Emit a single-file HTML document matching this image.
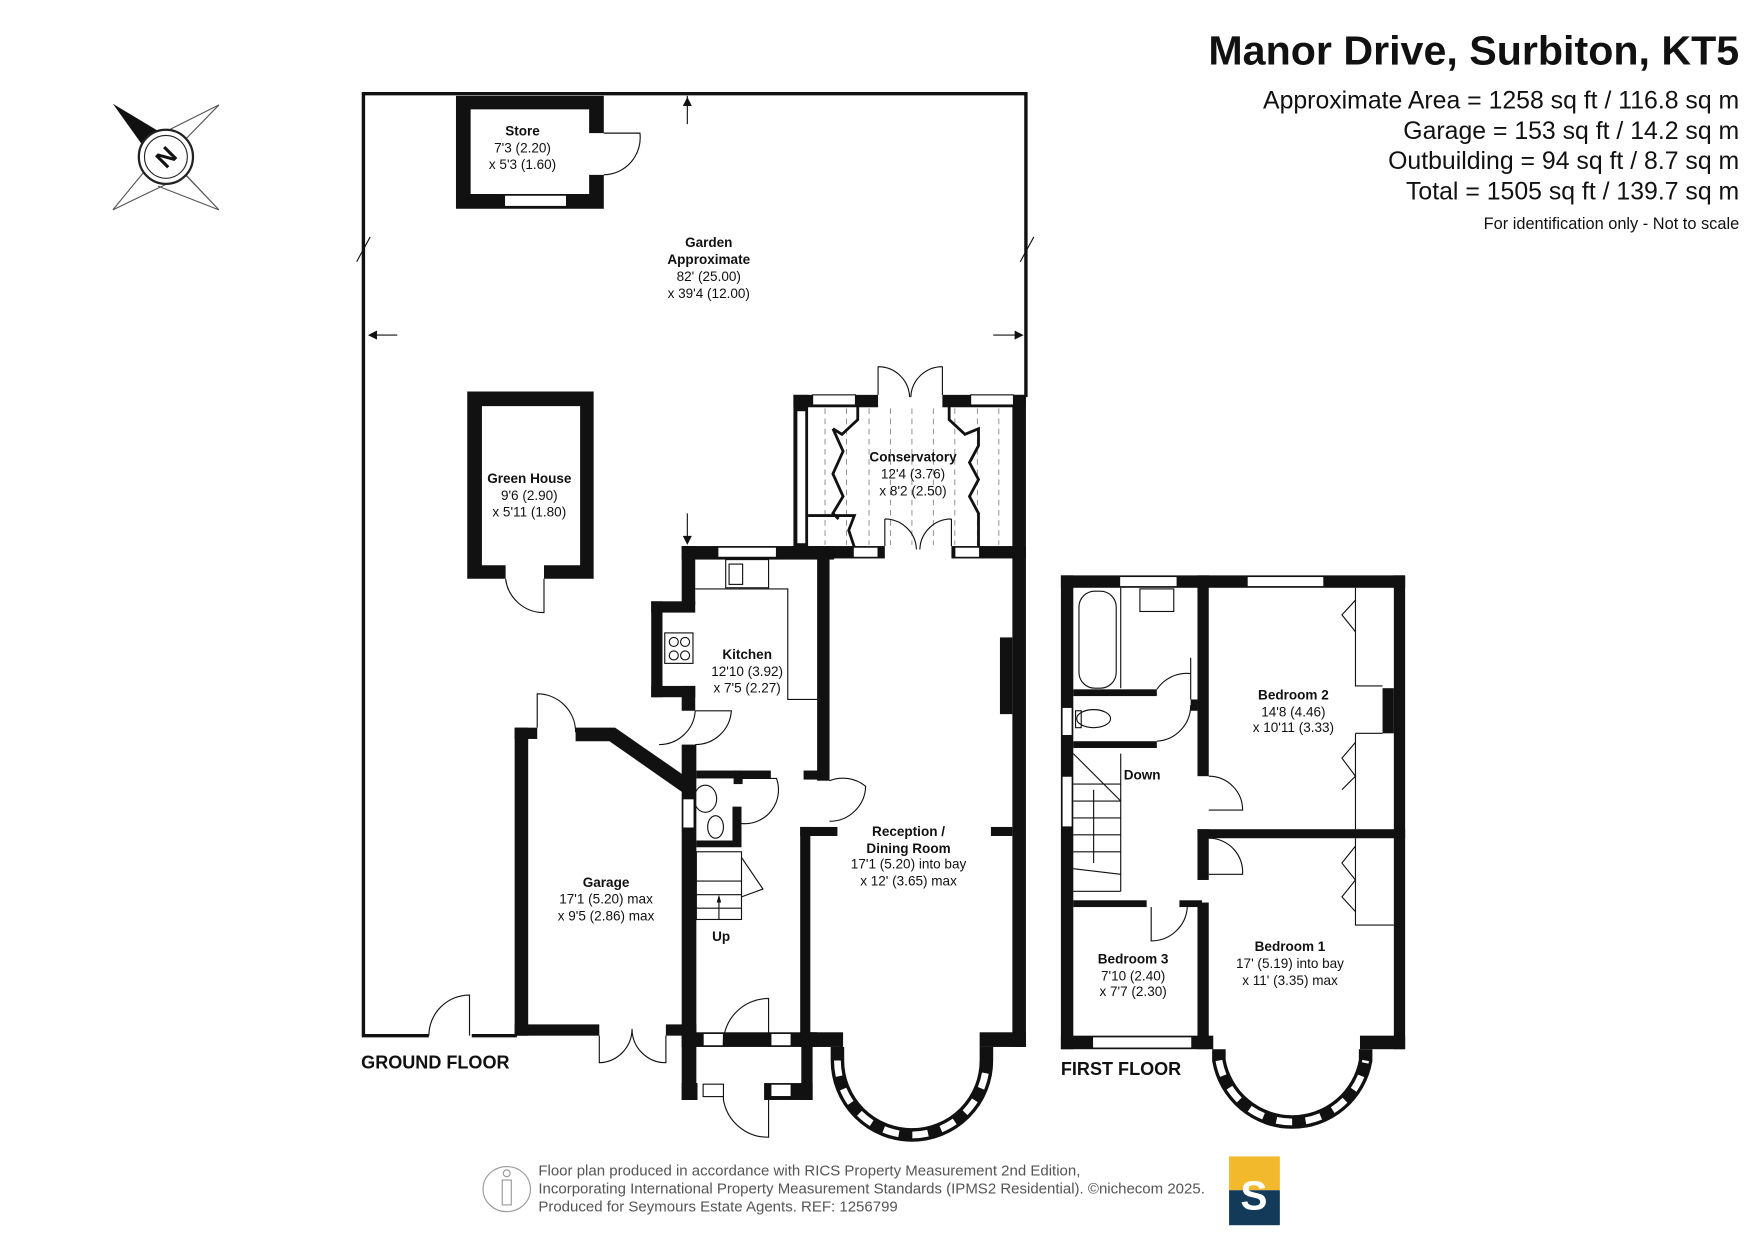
<!DOCTYPE html>
<html><head><meta charset="utf-8"><style>
html,body{margin:0;padding:0;background:#fff;}
svg{display:block;}
text{font-family:"Liberation Sans",Arial,sans-serif;fill:#111;}
.b{font-weight:bold;}
</style></head><body>
<svg width="1755" height="1241" viewBox="0 0 1555 1100" preserveAspectRatio="none" xmlns="http://www.w3.org/2000/svg">
<rect width="1555" height="1100" fill="#fff"/>
<text x="1541" y="57" text-anchor="end" class="b" font-size="36.5">Manor Drive, Surbiton, KT5</text>
<g font-size="22" text-anchor="end">
<text x="1541" y="96">Approximate Area = 1258 sq ft / 116.8 sq m</text>
<text x="1541" y="123">Garage = 153 sq ft / 14.2 sq m</text>
<text x="1541" y="150">Outbuilding = 94 sq ft / 8.7 sq m</text>
<text x="1541" y="177">Total = 1505 sq ft / 139.7 sq m</text>
</g>
<text x="1541" y="203" text-anchor="end" font-size="14.5">For identification only - Not to scale</text>
<g stroke="#555" stroke-width="1" fill="none">
<path d="M100,186 L132,147 M100,186 L150,162 M194,93 L160,128 M194,93 L140,120 M194,186 L160,150 M194,186 L140,165 M194,186 L150,140"/>
</g>
<polygon points="100,92 150,122 130,134" fill="#111"/>
<circle cx="147" cy="139" r="24" fill="#fff" stroke="#222" stroke-width="2"/>
<circle cx="147" cy="139" r="19" fill="none" stroke="#222" stroke-width="1"/>
<text x="147" y="147" text-anchor="middle" class="b" font-size="22" transform="rotate(-45 147 139)">N</text>

<g fill="none" stroke="#111" stroke-width="3">
<path d="M380,918 L322,918 L322,83 L909,83 L909,352"/>
<path d="M418,918 L458,918"/>
</g>
<g stroke="#111" stroke-width="1" fill="none">
<path d="M316,232 L328,210 M904,232 L916,210"/>
<path d="M328,297 L352,297 M880,297 L905,297 M609,85 L609,110 M609,455 L609,480"/>
</g>
<g fill="#111"><polygon points="326,297 334,293 334,301"/><polygon points="907,297 899,293 899,301"/><polygon points="609,86 605,94 613,94"/><polygon points="609,483 605,475 613,475"/></g>
<path d="M380,918 A36,36 0 0 1 416,882 L416,918" fill="none" stroke="#111" stroke-width="1"/>

<path d="M404,85 H535 V118 H522 V97 H417 V172 H522 V155 H535 V185 H404 Z" fill="#111"/>
<rect x="447" y="173" width="55" height="10" fill="#fff" stroke="#111" stroke-width="1"/>
<path d="M535,118 L567,118 A33,33 0 0 1 535,155" fill="none" stroke="#111" stroke-width="1"/>
<text x="463" y="120" text-anchor="middle" class="b" font-size="12">Store</text>
<text x="463" y="135" text-anchor="middle" font-size="12">7'3 (2.20)</text>
<text x="463" y="150" text-anchor="middle" font-size="12">x 5'3 (1.60)</text>

<path d="M414,347 H526 V513 H482 V501 H514 V360 H427 V501 H448 V513 H414 Z" fill="#111"/>
<path d="M448,513 A34,34 0 0 0 482,543 L482,513" fill="none" stroke="#111" stroke-width="1"/>
<text x="469" y="428" text-anchor="middle" class="b" font-size="12">Green House</text>
<text x="469" y="443" text-anchor="middle" font-size="12">9'6 (2.90)</text>
<text x="469" y="458" text-anchor="middle" font-size="12">x 5'11 (1.80)</text>

<g text-anchor="middle" font-size="12">
<text x="628" y="219" class="b">Garden</text>
<text x="628" y="234" class="b">Approximate</text>
<text x="628" y="249">82' (25.00)</text>
<text x="628" y="264">x 39'4 (12.00)</text>
</g>

<g fill="#111">
<rect x="703" y="350" width="75" height="11"/>
<rect x="835" y="350" width="74" height="11"/>
<rect x="703" y="350" width="13" height="145"/>
<rect x="897" y="350" width="12" height="145"/>
<rect x="703" y="484" width="81" height="11"/>
<rect x="843" y="484" width="66" height="11"/>
</g>
<g fill="#fff" stroke="#111" stroke-width="1">
<rect x="720" y="350" width="38" height="9"/><rect x="860" y="350" width="38" height="9"/>
<rect x="706" y="364" width="8" height="118"/>
<rect x="756" y="485" width="22" height="9"/><rect x="846" y="485" width="22" height="9"/>
</g>
<g stroke="#888" stroke-width="0.8" stroke-dasharray="5,4">
<path d="M731,362 V483 M750,362 V483 M770,362 V483 M789,362 V483 M808,362 V483 M827,362 V483 M846,362 V483 M866,362 V483 M885,362 V483"/>
</g>
<g fill="none" stroke="#111" stroke-width="2.5">
<path d="M760,360 V372 L746,385 L738,380 M738,380 L747,400 L738,420 L747,440 L738,455 L743,460 M716,457 H757 L752,470 L757,485"/>
<path d="M841,360 V372 L855,385 L867,380 L867,395 L859,410 L867,425 L859,440 L867,455 L867,485"/>
</g>
<path d="M778,350 V325 M835,350 V325 M778,325 A28,28 0 0 1 806,352 M835,325 A28,28 0 0 0 807,352 M784,484 V460 M843,484 V460 M784,460 A28,28 0 0 1 812,487 M843,460 A28,28 0 0 0 815,487" fill="none" stroke="#111" stroke-width="1"/>
<text x="809" y="409" text-anchor="middle" class="b" font-size="12">Conservatory</text>
<text x="809" y="424" text-anchor="middle" font-size="12">12'4 (3.76)</text>
<text x="809" y="439" text-anchor="middle" font-size="12">x 8'2 (2.50)</text>

<g fill="#111">
<rect x="604" y="484" width="135" height="12"/>
<rect x="604" y="484" width="12" height="52"/>
<rect x="577" y="533" width="39" height="10"/>
<rect x="577" y="533" width="10" height="85"/>
<rect x="577" y="608" width="39" height="10"/>
<rect x="604" y="608" width="12" height="22"/>
<rect x="724" y="484" width="11" height="208"/>
<rect x="712" y="683" width="14" height="8"/>
<rect x="897" y="484" width="12" height="444"/>
<rect x="886" y="565" width="11" height="68"/>
<rect x="709" y="733" width="33" height="8"/>
<rect x="878" y="733" width="19" height="8"/>
<rect x="709" y="733" width="9" height="195"/>
<rect x="709" y="915" width="38" height="13"/>
<rect x="868" y="915" width="41" height="13"/>
<rect x="604" y="660" width="13" height="315"/>
<rect x="456" y="645" width="12" height="273"/>
<rect x="456" y="645" width="20" height="10"/>
<polygon points="510,645 545,645 610,690 610,706 540,657 510,657"/>
<rect x="456" y="908" width="75" height="10"/>
<rect x="590" y="908" width="27" height="10"/>
<rect x="617" y="683" width="66" height="7"/>
<rect x="650" y="683" width="8" height="12"/>
<rect x="649" y="715" width="8" height="35"/>
<rect x="617" y="745" width="40" height="6"/>
<rect x="604" y="915" width="120" height="13"/>
<rect x="604" y="960" width="14" height="15"/>
<rect x="710" y="915" width="10" height="60"/>
<rect x="677" y="960" width="43" height="15"/>
</g>
<g fill="#fff" stroke="#111" stroke-width="1">
<rect x="636" y="485" width="52" height="9"/>
<rect x="605" y="708" width="10" height="26"/>
<rect x="623" y="916" width="18" height="11"/><rect x="683" y="916" width="18" height="11"/>
<rect x="623" y="961" width="18" height="11"/><rect x="683" y="961" width="18" height="11"/>
</g>
<g fill="none" stroke="#111" stroke-width="1">
<path d="M616,522 H698 V620 H724 M698,522 V620"/>
<rect x="643" y="496" width="38" height="25"/>
<rect x="646" y="500" width="12" height="18"/>
<rect x="589" y="561" width="25" height="27"/>
<circle cx="597" cy="569" r="4"/><circle cx="607" cy="569" r="4"/><circle cx="597" cy="581" r="4"/><circle cx="607" cy="581" r="4"/>
<path d="M616,630 A32,32 0 0 1 584,660 M616,630 H648 A32,32 0 0 1 616,660"/>
<path d="M476,645 V615 A34,34 0 0 1 510,649"/>
<path d="M531,918 V942 A30,30 0 0 0 560,912 M590,918 V942 A30,30 0 0 1 560,912"/>
<path d="M657,690 H688 A30,30 0 0 1 657,730"/>
<ellipse cx="625" cy="708" rx="10" ry="12"/>
<ellipse cx="634" cy="733" rx="7" ry="10"/>
<path d="M735,692 A32,32 0 0 1 767,697 A32,32 0 0 1 735,728"/>
<rect x="617" y="755" width="40" height="60"/>
<path d="M617,781 H657 M617,793 H657 M617,805 H657 M637,815 V795 M657,760 L676,788 L657,795"/>
<path d="M681,928 V885 A40,40 0 0 0 641,928 M641,972 V975 A40,40 0 0 0 681,1008 V975"/>
</g>
<polygon points="637,793 635,800 639,800" fill="#111"/>

<g fill="none">
<path d="M742,928 V940 A66,66 0 0 0 874,940 V928" stroke="#111" stroke-width="12"/>
<path d="M742,940 A66,66 0 0 0 874,940" stroke="#fff" stroke-width="6" stroke-dasharray="14,12"/>
</g>

<g text-anchor="middle" font-size="12">
<text x="662" y="584" class="b">Kitchen</text><text x="662" y="599">12'10 (3.92)</text><text x="662" y="614">x 7'5 (2.27)</text>
<text x="805" y="741" class="b">Reception /</text><text x="805" y="756" class="b">Dining Room</text><text x="805" y="770">17'1 (5.20) into bay</text><text x="805" y="785">x 12' (3.65) max</text>
<text x="537" y="786" class="b">Garage</text><text x="537" y="801">17'1 (5.20) max</text><text x="537" y="816">x 9'5 (2.86) max</text>
<text x="639" y="834" class="b">Up</text>
</g>
<text x="320" y="947" class="b" font-size="16">GROUND FLOOR</text>

<g fill="#111">
<rect x="940" y="510" width="305" height="11"/>
<rect x="940" y="510" width="11" height="420"/>
<rect x="1235" y="510" width="10" height="420"/>
<rect x="940" y="918" width="135" height="12"/>
<rect x="1205" y="918" width="40" height="12"/>
<rect x="1061" y="510" width="10" height="178"/>
<rect x="1061" y="735" width="10" height="45"/>
<rect x="1061" y="800" width="10" height="130"/>
<rect x="1061" y="735" width="184" height="8"/>
<rect x="951" y="611" width="74" height="6"/>
<rect x="951" y="657" width="74" height="6"/>
<rect x="951" y="798" width="65" height="6"/>
<rect x="1045" y="798" width="20" height="6"/>
<rect x="1225" y="610" width="10" height="40"/>
<rect x="1055" y="620" width="6" height="10"/>
</g>
<g fill="#fff" stroke="#111" stroke-width="1">
<rect x="992" y="511" width="51" height="9"/><rect x="1105" y="511" width="68" height="9"/>
<rect x="941" y="627" width="9" height="25"/><rect x="941" y="688" width="9" height="45"/>
<rect x="968" y="919" width="88" height="10"/>
</g>
<g fill="none" stroke="#111" stroke-width="1">
<rect x="956" y="524" width="33" height="86" rx="14"/>
<path d="M993,521 V610"/>
<rect x="1010" y="522" width="30" height="20"/>
<ellipse cx="969" cy="637" rx="15" ry="8"/><rect x="953" y="630" width="5" height="15"/>
<path d="M1055,597 A32,32 0 0 0 1025,611 M1055,583 V620 M1025,657 A32,32 0 0 0 1055,625"/>
<path d="M951,668 L993,710 M993,668 V790 M951,695 H993 M951,710 H993 M951,725 H993 M951,740 H993 M951,755 H993 M969,700 V765 M951,770 L993,775 M951,790 H993"/>
<path d="M1071,688 A30,30 0 0 1 1101,718 H1071 M1071,743 A30,30 0 0 1 1101,775 H1071"/>
<path d="M1020,804 V834 A32,32 0 0 0 1052,804"/>
<path d="M1201,521 V608 H1225 M1201,650 V735 M1201,650 H1225 M1201,743 V820 H1235"/>
<path d="M1201,532 L1189,545 L1201,560 M1201,658 L1189,672 L1201,688 L1189,700 M1201,750 L1189,765 L1201,780 L1189,795 L1201,808"/>
</g>
<g fill="none">
<path d="M1080,930 V940 A66,66 0 0 0 1210,940 V930" stroke="#111" stroke-width="12"/>
<path d="M1080,940 A66,66 0 0 0 1210,940" stroke="#fff" stroke-width="6" stroke-dasharray="14,12"/>
</g>
<g text-anchor="middle" font-size="12">
<text x="1012" y="691" class="b">Down</text>
<text x="1146" y="620" class="b">Bedroom 2</text><text x="1146" y="635">14'8 (4.46)</text><text x="1146" y="649">x 10'11 (3.33)</text>
<text x="1004" y="854" class="b">Bedroom 3</text><text x="1004" y="869">7'10 (2.40)</text><text x="1004" y="883">x 7'7 (2.30)</text>
<text x="1143" y="843" class="b">Bedroom 1</text><text x="1143" y="858">17' (5.19) into bay</text><text x="1143" y="873">x 11' (3.35) max</text>
</g>
<text x="940" y="953" class="b" font-size="16">FIRST FLOOR</text>

<ellipse cx="449" cy="1054" rx="21" ry="20" fill="none" stroke="#999" stroke-width="1"/>
<path d="M445,1046 V1068 H453 V1046 Z" fill="none" stroke="#999"/>
<circle cx="449" cy="1040" r="3" fill="none" stroke="#999"/>
<g font-size="13.3">
<text x="477" y="1042" style="fill:#555">Floor plan produced in accordance with RICS Property Measurement 2nd Edition,</text>
<text x="477" y="1058" style="fill:#555">Incorporating International Property Measurement Standards (IPMS2 Residential).  ©nichecom 2025.</text>
<text x="477" y="1074" style="fill:#555">Produced for Seymours Estate Agents.   REF: 1256799</text>
</g>
<rect x="1089" y="1025" width="45" height="30" fill="#f2b92c"/>
<rect x="1089" y="1055" width="45" height="31" fill="#143a5a"/>
<text x="1111" y="1072" text-anchor="middle" font-size="36" class="b" style="fill:#fff">S</text>
</svg>
</body></html>
